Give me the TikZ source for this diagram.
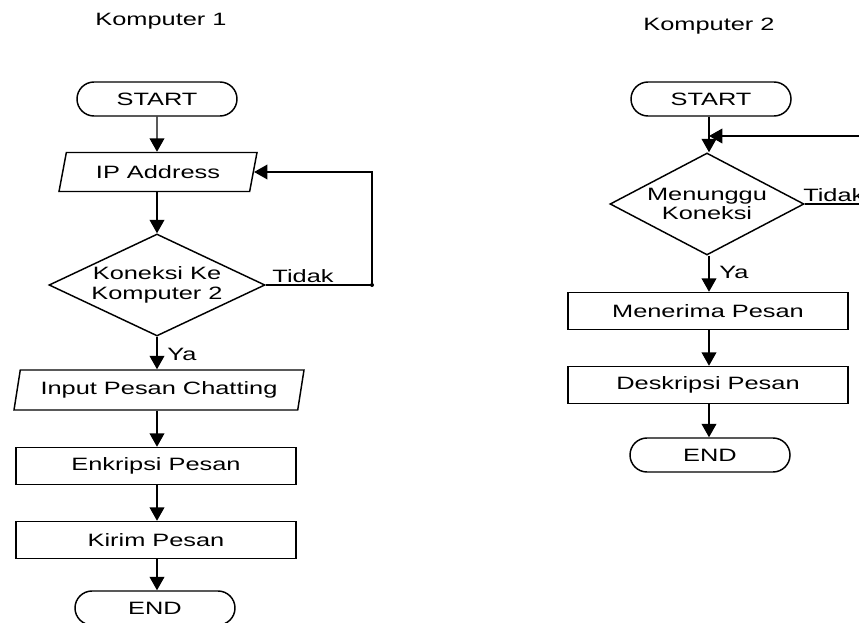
\documentclass[tikz,border=0pt]{standalone}
\usepackage{fontspec}
\setmainfont{Liberation Sans}[FakeStretch=1.42]
\usetikzlibrary{shapes.geometric,shapes.misc,arrows.meta}

\begin{document}
\begin{tikzpicture}[x=0.75pt,y=-0.75pt,
  every node/.style={font=\fontsize{13.4}{14}\selectfont, inner sep=1pt},
  line/.style={line width=1.1pt, draw=black},
  flow/.style={line, -{Triangle[length=10pt,width=11pt]}},
  term/.style={rounded rectangle, line, minimum width=122pt, minimum height=25.5pt},
  proc/.style={rectangle, line, minimum width=210pt, minimum height=27.75pt},
  io/.style={trapezium, line, trapezium stretches body, minimum height=29.25pt},
  decide/.style={diamond, line, aspect=2.1, inner sep=0pt, minimum height=76.5pt, align=center},
  lbl/.style={inner sep=0pt}
]
\useasboundingbox (0,0) rectangle (859,623);
\clip (0,0) rectangle (859,623);

% ---- Komputer 1 ----
\node[lbl] (k1) at (161,21) {Komputer 1};
\node[term] (s1) at (157,99) {START};
\node[io, trapezium left angle=65, trapezium right angle=115, minimum width=148.5pt] (ip) at (158,172) {IP Address};
\node[decide, minimum width=162pt, font=\fontsize{13.4}{15.5}\selectfont] (d1) at (157,285) {Koneksi Ke\\Komputer 2};
\node[io, trapezium left angle=72, trapezium right angle=108, minimum width=217.5pt, minimum height=30pt] (in) at (159,390) {Input Pesan Chatting};
\node[proc] (en) at (156,466) {Enkripsi Pesan};
\node[proc] (ki) at (156,540) {Kirim Pesan};
\node[term] (e1) at (155,608) {END};

\coordinate (c1) at (372,285);
\draw[flow] (s1) -- (s1.south |- ip.north);
\draw[flow] (ip.south -| s1.south) -- (s1.south |- d1.north);
\draw[flow] (d1) -- (d1.south |- in.north);
\draw[flow] (in.south -| d1.south) -- (d1.south |- en.north);
\draw[flow] (en.south -| d1.south) -- (d1.south |- ki.north);
\draw[flow] (ki.south -| d1.south) -- (d1.south |- e1.north);
\draw[flow] (d1.east) -- (c1) |- (ip.east);
\fill (c1) circle (1.5pt);
\node[lbl] (t1) at (303,276) {Tidak};
\node[lbl] (y1) at (182,354) {Ya};

% ---- Komputer 2 ----
\node[lbl] (k2) at (709,26) {Komputer 2};
\node[term] (s2) at (711,99) {START};
\node[decide, minimum width=145.5pt] (d2) at (707,204) {Menunggu\\Koneksi};
\node[proc] (mr) at (708,311) {Menerima Pesan};
\node[proc] (dp) at (708,385) {Deskripsi Pesan};
\node[term] (e2) at (710,455) {END};

\coordinate (j2) at (709,136);
\coordinate (c2) at (880,204);
\draw[flow] (s2.south -| j2) -- (j2 |- d2.north);
\draw[flow] (d2.south -| j2) -- (j2 |- mr.north);
\draw[flow] (mr.south -| j2) -- (j2 |- dp.north);
\draw[flow] (dp.south -| j2) -- (j2 |- e2.north);
\draw[flow] (d2.east) -- (c2) |- (j2);
\node[lbl, anchor=west] (t2) at (803,195) {Tidak};
\node[lbl] (y2) at (734,272) {Ya};
\end{tikzpicture}
\end{document}
